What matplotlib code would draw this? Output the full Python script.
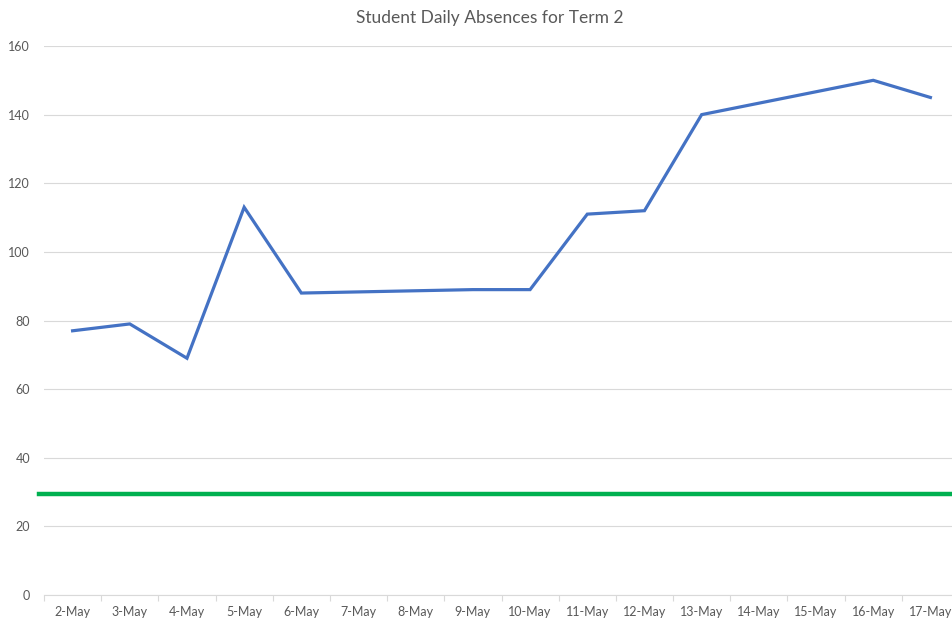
import numpy as np
import matplotlib
matplotlib.use("Agg")
import matplotlib.pyplot as plt

dates = ["2-May", "3-May", "4-May", "5-May", "6-May", "7-May", "8-May", "9-May",
         "10-May", "11-May", "12-May", "13-May", "14-May", "15-May", "16-May", "17-May"]
absences = [77, 79, 69, 113, 88, np.nan, np.nan, 89, 89, 111, 112, 140, np.nan, np.nan, 150, 145]
target = 29.5
title = "Student Daily Absences for Term 2"
yticks = [0, 20, 40, 60, 80, 100, 120, 140, 160]

plt.rcParams['font.family'] = ['Lato', 'DejaVu Sans']
W, H = 952, 621
fig = plt.figure(figsize=(W / 100, H / 100), dpi=100)
left, right, top, bottom = 44, 959, 46, 595
ax = fig.add_axes([left / W, 1 - bottom / H, (right - left) / W, (bottom - top) / H])

x = np.arange(len(dates))
vals = np.array(absences, dtype=float)
mask = ~np.isnan(vals)
ax.plot(x[mask], vals[mask], color="#4472C4", lw=2.3, solid_joinstyle="miter", zorder=3)

ax.axhline(target, xmin=-0.005, xmax=1.0, color="#00B050", lw=3.2, clip_on=False, zorder=4)

ax.set_xlim(-0.5, len(dates) - 0.5)
ax.set_ylim(0, 160)
ax.set_yticks(yticks)
ax.set_xticks(x)
ax.set_xticklabels(dates)
ax.set_xticks(np.arange(len(dates) + 1) - 0.5, minor=True)
ax.tick_params(axis="x", which="major", length=0, pad=8, labelsize=9, labelcolor="#595959")
ax.tick_params(axis="x", which="minor", length=4, color="#d9d9d9", width=0.8)
ax.tick_params(axis="y", length=0, pad=10, labelsize=9, labelcolor="#595959")
ax.grid(axis="y", color="#d9d9d9", lw=0.8)
ax.set_axisbelow(True)
for s in ["top", "right", "left"]:
    ax.spines[s].set_visible(False)
ax.spines["bottom"].set_color("#d9d9d9")
ax.spines["bottom"].set_linewidth(0.8)

fig.text(490 / W, 1 - 18 / H, title, ha="center", va="center", fontsize=12.5, color="#595959")

fig.savefig("out.png", dpi=100)
